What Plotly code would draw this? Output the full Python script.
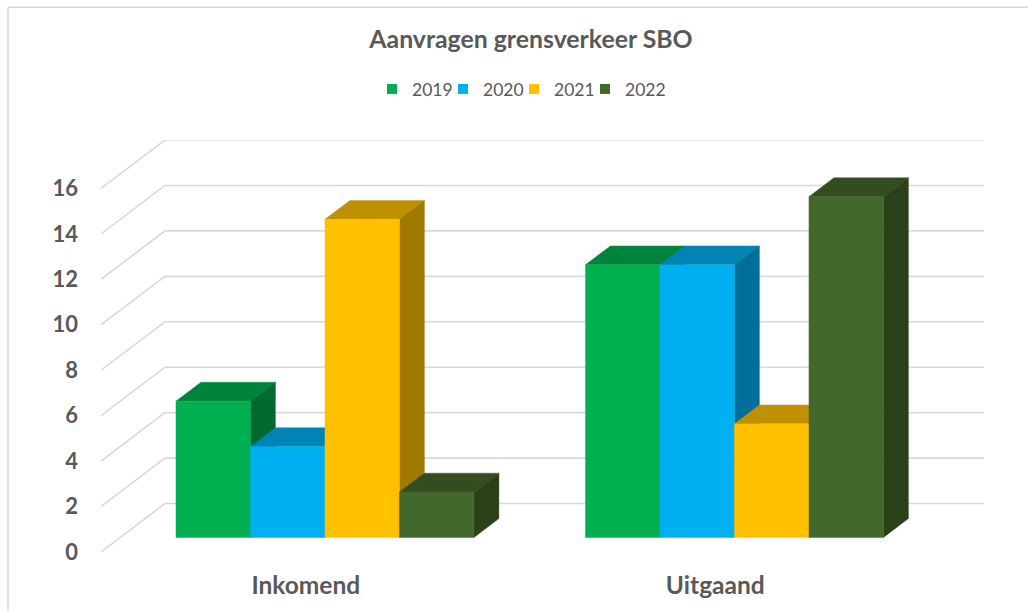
import plotly.graph_objects as go

categories = ["Inkomend", "Uitgaand"]
years = ["2019", "2020", "2021", "2022"]
values_2019 = [6, 12]
values_2020 = [4, 12]
values_2021 = [14, 5]
values_2022 = [2, 15]
series = [values_2019, values_2020, values_2021, values_2022]
front_colors = ["#00B050", "#00B0F0", "#FFC000", "#43682B"]
top_colors = ["#00843C", "#0084B4", "#C09000", "#324E20"]
side_colors = ["#006A30", "#00709A", "#A07A00", "#2A4019"]
y_ticks = [0, 2, 4, 6, 8, 10, 12, 14, 16]

# oblique projection, in axis units
PX_X = 409.5          # pixels per category
PX_Y = 22.75          # pixels per unit of value
WALL_X = 64 / PX_X    # full depth of the floor
WALL_Y = 48.5 / PX_Y
NEAR = 0.30           # where the bars start in the depth
DEEP = 0.39           # how deep the bars are
BAR_W = 74.5 / PX_X
Y_TOP = 412.5 / PX_Y

GRID = "#D9D9D9"
TEXT = "#595959"
FONT = "Lato, 'Open Sans', sans-serif"


def proj(x, v, d):
    return x + d * WALL_X, v + d * WALL_Y


fig = go.Figure()

# gridlines: side wall then back wall
gx, gy = [], []
for t in y_ticks:
    x0, y0 = proj(-0.5, t, 0)
    x1, y1 = proj(-0.5, t, 1)
    x2, y2 = proj(1.5, t, 1)
    gx += [x0, x1, x2, None]
    gy += [y0, y1, y2, None]
fig.add_trace(go.Scatter(x=gx, y=gy, mode="lines", showlegend=False, hoverinfo="skip",
                         line=dict(color=GRID, width=1.6)))


def poly(points, color, name):
    xs = [p[0] for p in points] + [points[0][0]]
    ys = [p[1] for p in points] + [points[0][1]]
    fig.add_trace(go.Scatter(x=xs, y=ys, mode="lines", fill="toself", fillcolor=color,
                             line=dict(color=color, width=0.4), showlegend=False,
                             name=name, hoverinfo="skip"))


for c, cat in enumerate(categories):
    for s, vals in enumerate(series):
        v = vals[c]
        left = c - 2 * BAR_W + s * BAR_W
        right = left + BAR_W
        a, b = NEAR, NEAR + DEEP
        poly([proj(left, v, a), proj(right, v, a), proj(right, v, b), proj(left, v, b)],
             top_colors[s], years[s])
        poly([proj(right, 0, a), proj(right, v, a), proj(right, v, b), proj(right, 0, b)],
             side_colors[s], years[s])
        poly([proj(left, 0, a), proj(right, 0, a), proj(right, v, a), proj(left, v, a)],
             front_colors[s], years[s])

# legend entries
for s, year in enumerate(years):
    fig.add_trace(go.Scatter(x=[None], y=[None], mode="markers", name=year,
                             marker=dict(symbol="square", size=10, color=front_colors[s])))
# empty spacer entry: keeps the tightly spaced last label from being clipped
fig.add_trace(go.Scatter(x=[None], y=[None], mode="markers", name=" ", hoverinfo="skip",
                         marker=dict(symbol="square", size=10, color="rgba(0,0,0,0)")))

fig.update_layout(
    width=1028, height=611,
    margin=dict(l=101, r=44, t=140, b=58.5),
    paper_bgcolor="white", plot_bgcolor="white",
    title=dict(text="<b>Aanvragen grensverkeer SBO</b>", x=531 / 1028, xanchor="center",
               y=1 - 39 / 611, yanchor="middle",
               font=dict(family=FONT, size=24.8, color=TEXT)),
    legend=dict(orientation="h", x=(372 - 101) / 883, xanchor="left",
                y=(552.5 - 89) / 412.5, yanchor="middle", traceorder="normal",
                entrywidth=26, entrywidthmode="pixels",
                font=dict(family=FONT, size=17.5, color=TEXT)),
    xaxis=dict(range=[-0.5, 1.5 + WALL_X], tickvals=[0, 1], ticktext=[f"<b>{c}</b>" for c in categories],
               showgrid=False, zeroline=False, showline=False, ticks="", fixedrange=True,
               ticklabelstandoff=16, automargin=False,
               tickfont=dict(family=FONT, size=24.5, color=TEXT)),
    yaxis=dict(range=[0, Y_TOP], tickvals=y_ticks, ticktext=[f"<b>{t}</b>" for t in y_ticks],
               showgrid=False, zeroline=False, showline=False, ticks="", fixedrange=True,
               ticklabelstandoff=22, automargin=False,
               tickfont=dict(family=FONT, size=22, color=TEXT)),
    shapes=[dict(type="line", xref="paper", yref="paper", x0=-93 / 883, x1=-93 / 883,
                 y0=-1, y1=(552.5 - 7) / 412.5, line=dict(color=GRID, width=1.5)),
            dict(type="line", xref="paper", yref="paper", x0=-93 / 883, x1=1.2,
                 y0=(552.5 - 7) / 412.5, y1=(552.5 - 7) / 412.5, line=dict(color=GRID, width=1.5))],
)

fig.write_html("out.html", config={"displayModeBar": False},
               post_script="document.body.style.margin='0';")
